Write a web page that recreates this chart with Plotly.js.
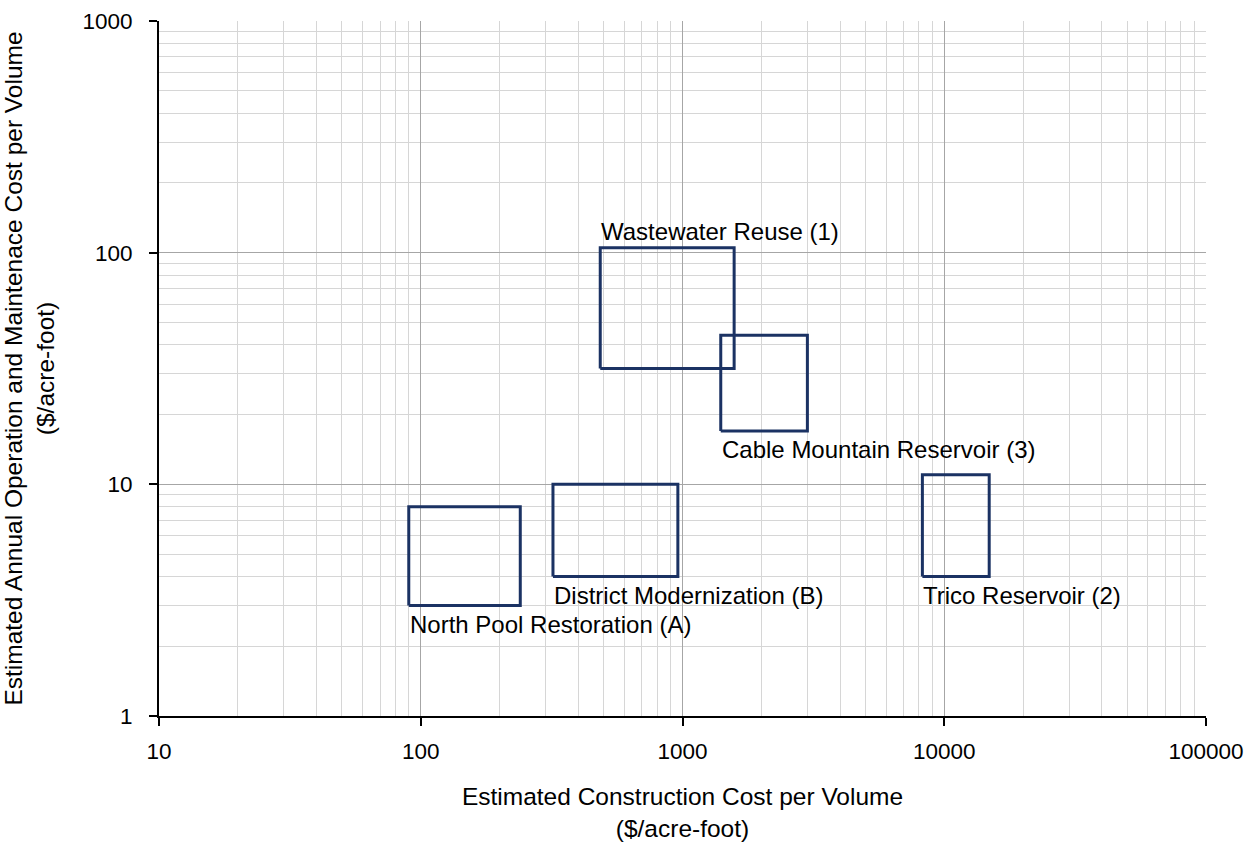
<!DOCTYPE html>
<html>
<head>
<meta charset="utf-8">
<script src="https://cdn.plot.ly/plotly-3.0.1.min.js"></script>
<style>html,body{margin:0;padding:0;background:#fff;}#chart{width:1257px;height:842px;}</style>
</head>
<body>
<div id="chart"></div>
<script>
// Project names
const projects = ["North Pool Restoration (A)", "District Modernization (B)", "Wastewater Reuse (1)", "Cable Mountain Reservoir (3)", "Trico Reservoir (2)"];
// Construction cost range ($/acre-foot)
const costLow  = [90, 320, 485, 1400, 8250];
const costHigh = [240, 960, 1575, 3000, 14850];
// Annual O&M cost range ($/acre-foot)
const omLow  = [3, 4, 31.6, 17, 4];
const omHigh = [8, 10, 105, 44, 11];
// Label placement: below box, except Wastewater above
const labelAbove = [false, false, true, false, false];

const xTickVals = [10, 100, 1000, 10000, 100000];
const xTickText = ["10", "100", "1000", "10000", "100000"];
const yTickVals = [1, 10, 100, 1000];
const yTickText = ["1", "10", "100", "1000"];

const boxColor = "#1b3263";
const fam = "Liberation Sans, Arial, sans-serif";
const labelFont = {family: fam, size: 24, color: "#000"};
const titleFont = {family: fam, size: 24.5, color: "#000"};
const tickFont = {family: fam, size: 22.5, color: "#000"};

const traces = projects.map((p, i) => ({
  type: "scatter", mode: "lines", name: p, showlegend: false, hoverinfo: "name",
  x: [costLow[i], costHigh[i], costHigh[i], costLow[i], costLow[i]],
  y: [omLow[i], omLow[i], omHigh[i], omHigh[i], omLow[i]],
  line: {color: boxColor, width: 3}
}));

const annotations = projects.map((p, i) => ({
  text: p, xref: "x", yref: "y",
  x: Math.log10(costLow[i]),
  y: Math.log10(labelAbove[i] ? omHigh[i] : omLow[i]),
  xanchor: "left", yanchor: "middle",
  xshift: -1,
  yshift: labelAbove[i] ? 16 : -19,
  showarrow: false, font: labelFont
}));

const axisCommon = {
  type: "log", showline: true, linecolor: "#000", linewidth: 2, mirror: false,
  ticks: "outside", ticklen: 8, tickwidth: 2, tickcolor: "#000",
  showgrid: true, gridcolor: "#a6a6a6", gridwidth: 1, zeroline: false,
  tickfont: tickFont, tickmode: "array",
  minor: {dtick: "D1", showgrid: true, gridcolor: "#d6d6d6", gridwidth: 1, ticks: ""}
};

const layout = {
  width: 1257, height: 842,
  margin: {l: 159, r: 51, t: 21, b: 126},
  paper_bgcolor: "#fff", plot_bgcolor: "#fff",
  font: labelFont,
  xaxis: Object.assign({}, axisCommon, {
    range: [1, 5], tickvals: xTickVals, ticktext: xTickText, ticklabelstandoff: 6,
    title: {text: "Estimated Construction Cost per Volume<br>($/acre-foot)", font: titleFont, standoff: 29}
  }),
  yaxis: Object.assign({}, axisCommon, {
    range: [0, 3], tickvals: yTickVals, ticktext: yTickText, ticklabelstandoff: 12,
    title: {text: "Estimated Annual Operation and Maintenace Cost per Volume<br>($/acre-foot)", font: titleFont, standoff: 23}
  }),
  annotations: annotations
};

Plotly.newPlot("chart", traces, layout, {displayModeBar: false, staticPlot: true});
</script>
</body>
</html>
